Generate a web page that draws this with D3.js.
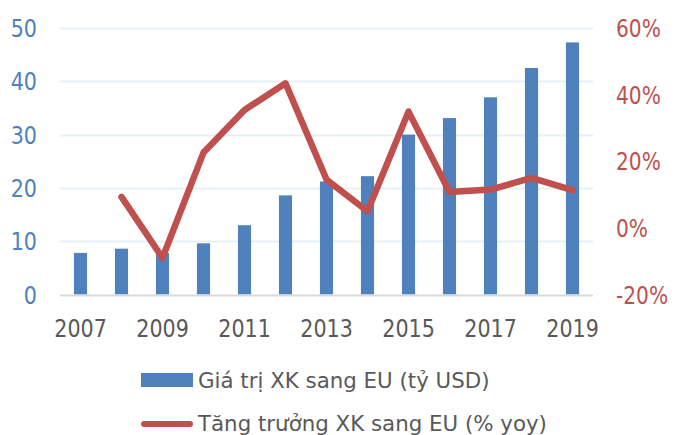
<!DOCTYPE html>
<html>
<head>
<meta charset="utf-8">
<script src="https://cdn.jsdelivr.net/npm/d3@7"></script>
<style>
  body { margin: 0; background: #fff; }
  svg text { font-family: 'DejaVu Sans', sans-serif; }
</style>
</head>
<body>
<div class="chart"></div>
<script>
'use strict';
var years = ['2007', '2008', '2009', '2010', '2011', '2012', '2013',
  '2014', '2015', '2016', '2017', '2018', '2019'];
var yearLabels = ['2007', '2009', '2011', '2013', '2015', '2017', '2019'];
// gia tri xuat khau sang EU, ty USD
var exportValue = [7.8, 8.6, 7.8, 9.6, 13.0, 18.6, 21.2, 22.2, 30.0, 33.1, 37.0, 42.5, 47.3];
// tang truong, % yoy (2007 khong co)
var growth = [null, 9.3, -9.0, 22.6, 35.4, 43.4, 14.5, 5.0, 34.9, 10.8, 11.5, 15.0, 11.3];
var leftTicks = [0, 10, 20, 30, 40, 50];
var rightTicks = [-20, 0, 20, 40, 60];
var legendLabels = ['Giá trị XK sang EU (tỷ USD)', 'Tăng trưởng XK sang EU (% yoy)'];

var blue = '#4f81bd', red = '#c0504d', grey = '#595959';

var width = 675, height = 435;
var plot = {left: 60, right: 593, top: 28, bottom: 294.5};

var svg = d3.select('.chart').append('svg')
  .attr('width', width)
  .attr('height', height);

var x = d3.scaleBand()
  .domain(years)
  .range([plot.left, plot.right])
  .paddingInner(0.68)
  .paddingOuter(0.34);

var y = d3.scaleLinear()
  .domain([0, 50])
  .range([plot.bottom, plot.top]);

var y2 = d3.scaleLinear()
  .domain([-20, 60])
  .range([plot.bottom, plot.top]);

// squeeze DejaVu a bit so it looks like Tahoma
function squeeze(sel, k) {
  sel.each(function() {
    var w = this.getComputedTextLength();
    d3.select(this).attr('textLength', w * k).attr('lengthAdjust', 'spacingAndGlyphs');
  });
}

// gridlines
svg.append('g').selectAll('line')
  .data(leftTicks.slice(1))
  .enter().append('line')
  .attr('x1', plot.left)
  .attr('x2', plot.right)
  .attr('y1', function(d) { return Math.round(y(d)) + 0.5; })
  .attr('y2', function(d) { return Math.round(y(d)) + 0.5; })
  .attr('stroke', '#e9eff6')
  .attr('stroke-width', 2);

// bars
svg.append('g').selectAll('rect')
  .data(exportValue)
  .enter().append('rect')
  .attr('x', function(d, i) { return x(years[i]); })
  .attr('width', x.bandwidth())
  .attr('y', function(d) { return y(d); })
  .attr('height', function(d) { return y(0) - y(d); })
  .attr('fill', blue);

// baseline
svg.append('line')
  .attr('x1', plot.left)
  .attr('x2', plot.right)
  .attr('y1', y(0) + 1)
  .attr('y2', y(0) + 1)
  .attr('stroke', '#d9d9d9')
  .attr('stroke-width', 2);

// growth line
var line = d3.line()
  .defined(function(d) { return d != null; })
  .x(function(d, i) { return x(years[i]) + x.bandwidth() / 2; })
  .y(function(d) { return y2(d); });

svg.append('path')
  .datum(growth)
  .attr('d', line)
  .attr('fill', 'none')
  .attr('stroke', red)
  .attr('stroke-width', 6.5)
  .attr('stroke-linejoin', 'round')
  .attr('stroke-linecap', 'round');

// left axis
var leftAxis = svg.append('g')
  .attr('transform', 'translate(37,0)')
  .call(d3.axisLeft(y).tickValues(leftTicks).tickSize(0).tickPadding(0));
leftAxis.select('.domain').remove();
leftAxis.selectAll('text')
  .attr('fill', blue)
  .attr('font-size', 24)
  .attr('dy', '0.36em')
  .call(squeeze, 0.86);

// right axis
var rightAxis = svg.append('g')
  .attr('transform', 'translate(616,0)')
  .call(d3.axisRight(y2).tickValues(rightTicks).tickSize(0).tickPadding(0)
    .tickFormat(function(d) { return d + '%'; }));
rightAxis.select('.domain').remove();
rightAxis.selectAll('text')
  .attr('fill', red)
  .attr('font-size', 24)
  .attr('dy', '0.36em')
  .call(squeeze, 0.84);

// x axis
var xAxis = svg.append('g')
  .attr('transform', 'translate(0,' + 320 + ')')
  .call(d3.axisBottom(x).tickValues(yearLabels).tickSize(0).tickPadding(0));
xAxis.select('.domain').remove();
xAxis.selectAll('text')
  .attr('fill', grey)
  .attr('font-size', 24)
  .attr('dy', '0.71em')
  .call(squeeze, 0.86);

// legend
var legend = svg.append('g');
legend.append('rect')
  .attr('x', 141)
  .attr('y', 373)
  .attr('width', 52)
  .attr('height', 14)
  .attr('fill', blue);
legend.append('line')
  .attr('x1', 144)
  .attr('x2', 190)
  .attr('y1', 424)
  .attr('y2', 424)
  .attr('stroke', red)
  .attr('stroke-width', 6)
  .attr('stroke-linecap', 'round');
legend.selectAll('text')
  .data(legendLabels)
  .enter().append('text')
  .attr('x', 198)
  .attr('y', function(d, i) { return 388 + i * 43; })
  .attr('fill', grey)
  .attr('font-size', 22)
  .text(function(d) { return d; })
  .call(squeeze, 0.97);
</script>
</body>
</html>
